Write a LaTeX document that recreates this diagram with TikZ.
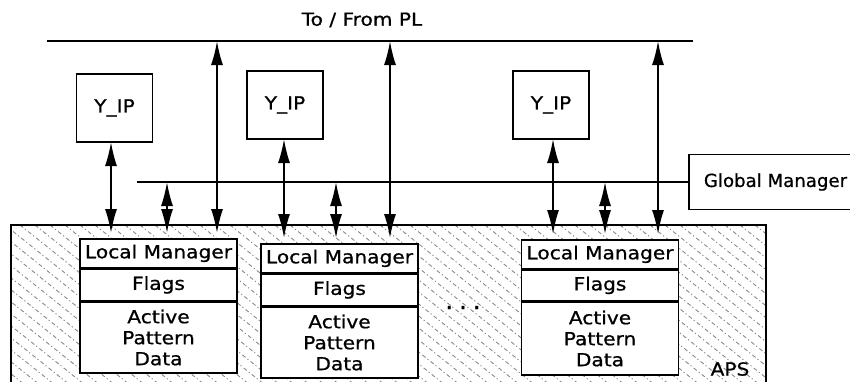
\documentclass[tikz,border=0pt]{standalone}
\usepackage{fontspec}
\setmainfont[FakeStretch=1.12,FakeBold=0.8]{DejaVu Sans}
\usetikzlibrary{arrows.meta}
\begin{document}
\begin{tikzpicture}[x=0.5pt,y=-0.5pt,
  every node/.style={font=\fontsize{9}{10.5}\selectfont},
  ln/.style={line width=0.8pt},
  dbl/.style={line width=0.8pt,{Latex[length=12pt,width=6pt]}-{Latex[length=12pt,width=6pt]}, shorten >=2.5pt},
  yipbox/.style={draw, line width=0.8pt, minimum width=38pt, minimum height=34pt, inner sep=0pt},
  sect/.style={draw, line width=0.8pt, fill=white, minimum width=78.5pt, inner sep=0pt, anchor=north, align=center},
  hatch/.style={black!50, line width=0.4pt, dash pattern=on 2pt off 1.2pt on 0.6pt off 1.4pt}
]
\useasboundingbox (0,0) rectangle (850,381);
\clip (0,0) rectangle (850,381);

% APS area with hatching
\begin{scope}
  \clip (11,225) rectangle (766,395);
  \foreach \i in {-220,-205,...,770} \draw[hatch] (\i,225) -- ++(200,160);
\end{scope}
\draw[line width=0.7pt] (11,395) -- (11,225) -- (766,225) -- (766,395);
\node (aps) at (730,369) {APS};
\node[font=\fontsize{12}{12}\selectfont] (dots) at (463,311) {·\hspace{2.6pt}·\hspace{2.6pt}·};

% Top bus
\node (title) at (362,20) {To / From PL};
\coordinate (busL) at (47,41);
\coordinate (busR) at (693,41);
\draw[ln] (busL) -- (busR);

% Y_IP boxes
\node[yipbox] (yip1) at (114.5,108) {Y\_IP};
\node[yipbox] (yip2) at (285,105) {Y\_IP};
\node[yipbox] (yip3) at (551,105) {Y\_IP};

% Global manager
\node[draw, line width=0.8pt, minimum width=85.5pt, minimum height=27.5pt, inner sep=0pt] (gm) at (774.5,182) {\hspace{1pt}\scalebox{0.9}[1]{Global Manager}};
\coordinate (gmL) at (137,182);
\draw[ln] (gmL) -- (gm.west);

% Local boxes
\node[sect, minimum height=14.5pt] (lm1) at (158.5,238) {Local Manager};
\node[sect, minimum height=15.5pt] (fl1) at (lm1.south) {Flags};
\node[sect, minimum height=35.5pt] (ap1) at (fl1.south) {Active\\Pattern\\Data};

\node[sect, minimum height=14.5pt] (lm2) at (339.5,243) {Local Manager};
\node[sect, minimum height=15.5pt] (fl2) at (lm2.south) {Flags};
\node[sect, minimum height=35.5pt] (ap2) at (fl2.south) {Active\\Pattern\\Data};

\node[sect, minimum height=14.5pt] (lm3) at (600,239) {Local Manager};
\node[sect, minimum height=15pt] (fl3) at (lm3.south) {Flags};
\node[sect, minimum height=36.5pt] (ap3) at (fl3.south) {Active\\Pattern\\Data};

% bus taps
\coordinate (t1) at (217,41);
\coordinate (t2) at (390,41);
\coordinate (t3) at (658,41);
\coordinate (g1) at (167,182);
\coordinate (g2) at (336,182);
\coordinate (g3) at (605,182);
\coordinate (y1) at (111,142);
\coordinate (y2) at (284,139);
\coordinate (y3) at (553,139);

\draw[dbl] (t1) -- (t1 |- lm1.north);
\draw[dbl] (t2) -- (t2 |- lm2.north);
\draw[dbl] (t3) -- (t3 |- lm3.north);
\draw[dbl] (g1) -- (g1 |- lm1.north);
\draw[dbl] (g2) -- (g2 |- lm2.north);
\draw[dbl] (g3) -- (g3 |- lm3.north);
\draw[dbl] (y1) -- (y1 |- lm1.north);
\draw[dbl] (y2) -- (y2 |- lm2.north);
\draw[dbl] (y3) -- (y3 |- lm3.north);
\end{tikzpicture}
\end{document}
